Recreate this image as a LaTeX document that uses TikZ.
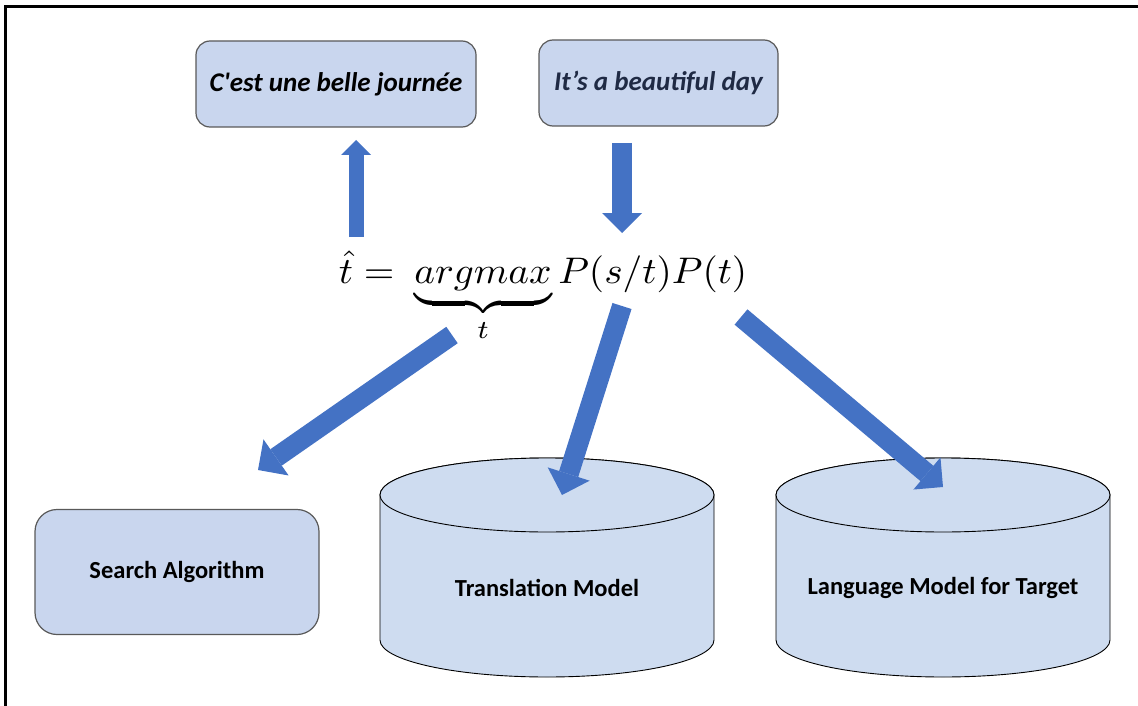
\documentclass[tikz,border=0pt]{standalone}
\usepackage{fontspec}
\setmainfont{Carlito}
\usetikzlibrary{arrows.meta}
\definecolor{boxfill}{HTML}{C9D6EE}
\definecolor{cylfill}{HTML}{CEDCF0}
\definecolor{arrowblue}{HTML}{4472C4}
\definecolor{navy}{HTML}{1F2A44}
\tikzset{
  rbox/.style={draw=black!65, line width=1.2pt, fill=boxfill, rounded corners=14pt, inner sep=0pt},
  cylbody/.style={draw=black, line width=0.9pt, fill=cylfill},
  boxtext/.style={font=\fontsize{24.5}{28}\selectfont\bfseries},
  toptext/.style={font=\fontsize{27}{31}\selectfont\bfseries\itshape},
  blockarrow/.style n args={3}{draw=arrowblue, line width=#1,
     -{Triangle[width=#2,length=#3,line width=0pt,fill=arrowblue]}}
}
\begin{document}
\begin{tikzpicture}[x=1pt,y=-1pt]
\useasboundingbox (0,0) rectangle (1138,706);
% frame
\draw[line width=3pt] (5,706) -- (5,7) -- (1138,7);

% top boxes
\node[rbox, minimum width=280pt, minimum height=86pt, toptext] (fr) at (336,84) {C\textquotesingle est une belle journée};
\node[rbox, minimum width=239pt, minimum height=86pt, toptext, text=navy] (en) at (658.5,83) {It’s a beautiful day};

% formula
\node[anchor=base west, xscale=3.93, yscale=3.7, inner sep=0pt] (eq) at (338,283) {$\hat{t} =\ \underbrace{argmax}_{\raisebox{2.6pt}{$\scriptstyle t$}} P(s/t)P(t)$};

% search box
\node[rbox, rounded corners=22pt, minimum width=284pt, minimum height=125pt, boxtext] (sa) at (177,572) {Search Algorithm};

% cylinders
\foreach \cx/\nm/\txt in {547/tm/Translation Model, 943/lm/Language Model for Target}{
  \filldraw[cylbody] (\cx-167,495) -- (\cx-167,640)
      arc[start angle=180, end angle=0, x radius=167, y radius=37]
      -- (\cx+167,495)
      arc[start angle=0, end angle=-180, x radius=167, y radius=37] -- cycle;
  \filldraw[cylbody] (\cx,495) ellipse[x radius=167, y radius=37];
  \node[boxtext] (\nm) at (\cx,588) {\txt};
}

% arrow end points
\coordinate (u0) at (356,237); \coordinate (u1) at (356,140);
\coordinate (d0) at (622,143); \coordinate (d1) at (622,233);
\coordinate (a0) at (452,335); \coordinate (a1) at (258,470);
\coordinate (b0) at (622,306); \coordinate (b1) at (562,495);
\coordinate (c0) at (741,317); \coordinate (c1) at (943,487);

\draw[blockarrow={15pt}{30pt}{15pt}] (u0) -- (u1);
\draw[blockarrow={20pt}{40pt}{20pt}] (d0) -- (d1);
\draw[blockarrow={20pt}{44pt}{22pt}] (a0) -- (a1);
\draw[blockarrow={20pt}{44pt}{22pt}] (b0) -- (b1);
\draw[blockarrow={20pt}{42pt}{21pt}] (c0) -- (c1);
\end{tikzpicture}
\end{document}
